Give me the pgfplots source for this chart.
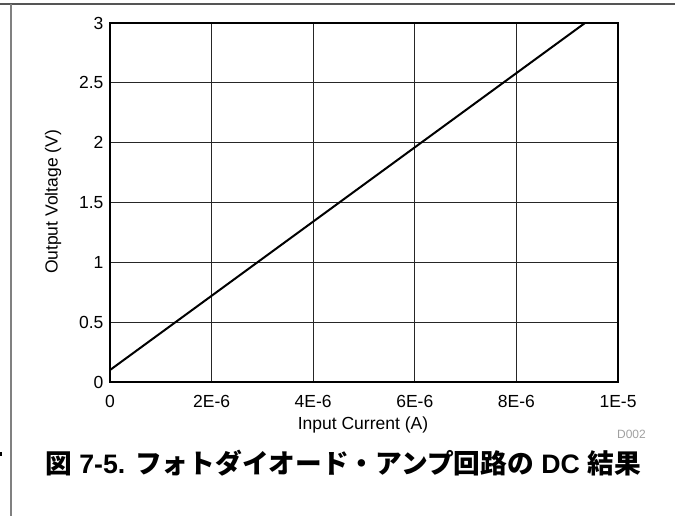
\documentclass[border=0pt]{standalone}
\usepackage{fontspec}
\setmainfont{Liberation Sans}
\newfontfamily\cjk{Noto Sans CJK JP}
\usepackage{pgfplots}
\pgfplotsset{compat=1.18}
\definecolor{frame}{HTML}{555555}
\definecolor{side}{HTML}{808080}
\definecolor{tag}{HTML}{A0A0A0}

\begin{document}
\begin{tikzpicture}[x=1pt,y=1pt]
\path[use as bounding box] (0,0) rectangle (675,516);
% page frame bits
\draw[frame,line width=1.5pt] (0,512) -- (675,512);
\draw[side,line width=2pt] (11,0) -- (11,512);
\fill[black] (0,60) rectangle (1.5,64);
\begin{axis}[
  at={(110pt,134pt)}, anchor=south west,
  scale only axis, width=508pt, height=359pt,
  xmin=0, xmax=1e-5, ymin=0, ymax=3,
  xtick={0,2e-6,4e-6,6e-6,8e-6,1e-5},
  xticklabels={0,2E-6,4E-6,6E-6,8E-6,1E-5},
  ytick={0,0.5,1,1.5,2,2.5,3},
  yticklabels={0,0.5,1,1.5,2,2.5,3},
  scaled x ticks=false,
  grid=major, grid style={black!85,line width=0.8pt},
  major tick length=0pt,
  axis line style={black,line width=2pt},
  tick label style={font=\fontsize{17.5}{20}\selectfont},
  xticklabel style={yshift=-10pt},
  yticklabel style={xshift=-3pt},
]
\addplot[black,line width=2pt] coordinates {(0,0.1)(9.35e-6,3)};
\end{axis}
\node[font=\fontsize{17.5}{20}\selectfont] at (363,91) {Input Current (A)};
\node[font=\fontsize{17.5}{20}\selectfont,rotate=90] at (53,314) {Output Voltage (V)};
\node[font=\fontsize{12}{14}\selectfont,text=tag,anchor=east,inner sep=0pt] at (646,82) {D002};
\node[font=\bfseries\fontsize{26.7}{30}\selectfont] at (343,53) {{\cjk 図} 7-5. {\cjk フォトダイオード・アンプ回路の} DC {\cjk 結果}};
\end{tikzpicture}
\end{document}
